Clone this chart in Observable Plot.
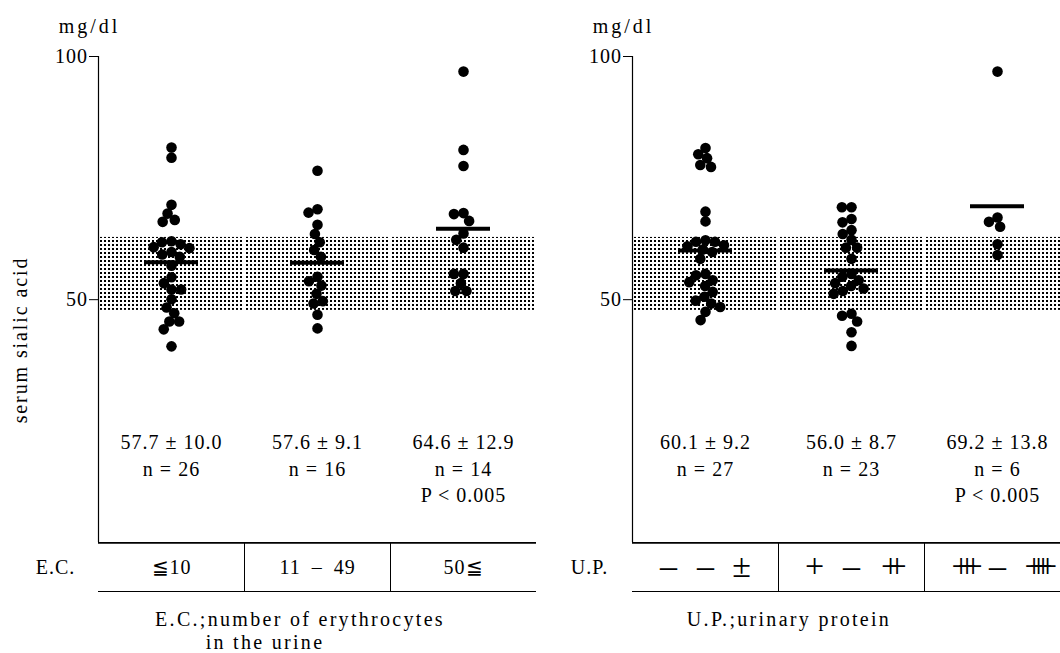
<!DOCTYPE html>
<html>
<head>
<meta charset="utf-8">
<script src="https://cdn.jsdelivr.net/npm/d3@7"></script>
<script src="https://cdn.jsdelivr.net/npm/@observablehq/plot@0.6"></script>
<style>
  html, body { margin: 0; padding: 0; background: #fff; overflow: hidden; width: 1060px; height: 653px; }
  #wrap { position: relative; width: 1060px; height: 653px; overflow: hidden; }
  .panel { position: absolute; top: 0; width: 540px; height: 653px; }
  .panel svg { max-width: none !important; width: 540px; height: 653px; display: block; }
  .cap { position: absolute; font-family: "Liberation Serif", "Times New Roman", serif; font-size: 20px;
         letter-spacing: 2.3px; white-space: nowrap; transform: translateX(-50%); line-height: 20px; color: #000; }
</style>
</head>
<body>
<svg width="0" height="0" style="position:absolute">
  <defs>
    <pattern id="halftone" patternUnits="userSpaceOnUse" width="4" height="4">
      <rect x="0" y="0" width="2" height="2" fill="#000"></rect>
    </pattern>
  </defs>
</svg>
<div id="wrap"></div>
<script>
// ---------------- data ----------------
const yLabel = "serum sialic acid";
const unitLabel = "mg/dl";
const yTicks = [50, 100];
const normalBand = [47.8, 62.8];

// E.C. : number of erythrocytes in the urine
const ecRowLabel = "E.C.";
const ecGroups = ["≦10", "11\u2002–\u200249", "50≦"];
const ecValues = [
  [81.3, 79.2, 69.5, 67.7, 66.4, 66.0, 62.0, 61.8, 61.4, 60.8, 60.6, 59.8, 59.3, 58.8,
   57.0, 54.6, 53.4, 52.1, 52.1, 50.1, 48.4, 47.2, 45.5, 45.5, 43.9, 40.4],
  [76.5, 68.6, 67.9, 65.4, 63.5, 61.8, 60.2, 58.8, 54.7, 53.8, 52.9, 51.2, 49.7, 49.2, 46.9, 44.1],
  [96.9, 80.8, 77.5, 67.8, 67.6, 66.2, 63.6, 62.3, 60.7, 55.3, 55.3, 53.4, 51.8, 51.8]
];
const ecMeans = [57.7, 57.6, 64.6];
const ecSDs = [10.0, 9.1, 12.9];
const ecN = [26, 16, 14];
const ecP = [null, null, "0.005"];
const ecCaption = ["E.C.;number of erythrocytes", "in the urine"];

// U.P. : urinary protein
const upRowLabel = "U.P.";
const upSymbols = [["–", "–", "±"], ["+", "–", "++"], ["+++", "–", "++++"]];
const upValues = [
  [81.2, 79.9, 79.1, 77.7, 77.3, 68.1, 66.1, 62.2, 61.9, 61.9, 61.2, 61.0, 60.3, 59.8, 58.4,
   55.3, 55.0, 54.0, 53.6, 52.8, 51.6, 50.6, 49.8, 49.2, 48.5, 47.5, 45.8],
  [69.0, 69.0, 66.6, 65.9, 64.3, 63.5, 62.3, 60.7, 60.7, 58.4,
   55.3, 54.7, 54.0, 53.4, 52.8, 52.3, 51.8, 51.2, 47.1, 46.7, 45.5, 43.3, 40.5],
  [96.9, 66.9, 66.0, 65.0, 61.4, 59.2]
];
const upMeans = [60.1, 56.0, 69.2];
const upSDs = [9.2, 8.7, 13.8];
const upN = [27, 23, 6];
const upP = [null, null, "0.005"];
const upCaption = ["U.P.;urinary protein"];

// ---------------- layout constants ----------------
const FONT = '"Liberation Serif", "DejaVu Serif", "Times New Roman", serif';
const yMax = d3.max(yTicks);
const tableBottom = -10;           // table row occupies [tableBottom, 0] on the y scale
const rowMid = tableBottom / 2;
const statsTop = 23.2;

function panel(cfg) {
  const {groups, values, means, sds, ns, ps, rowLabel, symbols, withYLabel, marginLeft, marginRight} = cfg;
  const dots = groups.flatMap((g, i) => values[i].map(v => ({group: g, value: v})));
  const stats = groups.map((g, i) => ({
    group: g,
    mean: means[i],
    label: [`${means[i].toFixed(1)} ± ${sds[i].toFixed(1)}`, `n = ${ns[i]}`]
      .concat(ps[i] ? [`P < ${ps[i]}`] : []).join("\n")
  }));
  const marks = [
    Plot.rect([normalBand], {y1: d => d[0], y2: d => d[1], fill: "url(#halftone)"}),
    // table row lines (frame bottom and table bottom)
    Plot.ruleY([0], {stroke: "#000", strokeWidth: 1.6}),
    Plot.ruleY([tableBottom], {stroke: "#000", strokeWidth: 1}),
    // y axis line
    Plot.ruleX([0], {y1: 0, y2: yMax, stroke: "#000", strokeWidth: 1.2, facetAnchor: "left"}),
    // column dividers in the table row
    Plot.ruleX(groups.slice(1), {fx: d => d, x: () => 0, y1: tableBottom, y2: 0, stroke: "#000", strokeWidth: 1}),
    Plot.axisY(yTicks, {tickSize: 9, tickPadding: 1.5, fontSize: 20, fontFamily: FONT, label: null}),
    Plot.dot(dots, Plot.dodgeX({anchor: "middle", padding: -1}, {fx: "group", y: "value", r: 5.3, fill: "#000"})),
    Plot.tickY(stats, {fx: "group", y: "mean", stroke: "#000", strokeWidth: 4, insetLeft: 46, insetRight: 46}),
    Plot.text(stats, {fx: "group", text: "label", y: statsTop, lineAnchor: "top", lineHeight: 1.33, fontSize: 20, fontFamily: FONT}),
    Plot.text([rowLabel], {text: d => d, y: rowMid, frameAnchor: "left", textAnchor: "middle", dx: -43, facetAnchor: "left", fontSize: 20, fontFamily: FONT}),
    Plot.text([unitLabel], {text: d => d, frameAnchor: "top-left", textAnchor: "middle", lineAnchor: "middle", dx: -9, dy: -30, facetAnchor: "left", fontSize: 20, fontFamily: FONT})
  ];
  if (symbols) {
    const rows = groups.map((g, i) => ({group: g, s: symbols[i]}));
    [-37, 0, 36].forEach((off, k) => {
      marks.push(Plot.text(rows, {fx: "group", text: d => d.s[k], y: rowMid, dx: off, dy: -1, fontSize: 34, fontFamily: FONT}));
    });
  } else {
    marks.push(Plot.text(groups, {fx: d => d, text: d => d, y: rowMid, fontSize: 20, fontFamily: FONT}));
  }
  if (withYLabel) {
    marks.push(Plot.text([yLabel], {text: d => d, frameAnchor: "left", textAnchor: "middle", lineAnchor: "middle", rotate: -90, dx: -78, dy: 16, facetAnchor: "left", fontSize: 20, fontFamily: FONT}));
  }
  const svg = Plot.plot({
    width: 540,
    height: 653,
    marginTop: 56,
    marginBottom: 62,
    marginLeft,
    marginRight,
    style: {fontFamily: FONT, fontSize: "20px", color: "#000", background: "none", overflow: "visible", letterSpacing: "1px"},
    fx: {domain: groups, padding: 0, axis: null, label: null},
    x: {domain: [0, 1], axis: null},
    y: {domain: [tableBottom, yMax]},
    marks
  });
  svg.style.maxWidth = "none";
  const plusSpacing = {2: -12.6, 3: -13.2, 4: -14.7};
  d3.select(svg).selectAll("text").each(function () {
    const t = this.textContent;
    if (/^\++$/.test(t) && t.length > 1) d3.select(this).style("letter-spacing", plusSpacing[t.length] + "px");
    else if (/^[–±+]$/.test(t)) d3.select(this).style("letter-spacing", "0px");
    if (t === yLabel) d3.select(this).style("letter-spacing", "1.9px");
    if (t === unitLabel) d3.select(this).style("letter-spacing", "3px");
  });
  return svg;
}

const wrap = document.getElementById("wrap");

const left = panel({
  groups: ecGroups, values: ecValues, means: ecMeans, sds: ecSDs, ns: ecN, ps: ecP,
  rowLabel: ecRowLabel, symbols: null, withYLabel: true, marginLeft: 98, marginRight: 4
});
const leftDiv = document.createElement("div");
leftDiv.className = "panel"; leftDiv.style.left = "0px";
leftDiv.appendChild(left); wrap.appendChild(leftDiv);

const upKeys = upSymbols.map(s => s.join(" "));
const right = panel({
  groups: upKeys, values: upValues, means: upMeans, sds: upSDs, ns: upN, ps: upP,
  rowLabel: upRowLabel, symbols: upSymbols, withYLabel: false, marginLeft: 102, marginRight: 0
});
const rightDiv = document.createElement("div");
rightDiv.className = "panel"; rightDiv.style.left = "530px";
rightDiv.appendChild(right); wrap.appendChild(rightDiv);

// captions below the table rows
function caption(text, cx, top) {
  const d = document.createElement("div");
  d.className = "cap"; d.textContent = text;
  d.style.left = cx + "px"; d.style.top = top + "px";
  wrap.appendChild(d);
}
caption(ecCaption[0], 300, 609);
caption(ecCaption[1], 265, 632);
caption(upCaption[0], 789, 609);
</script>
</body>
</html>
